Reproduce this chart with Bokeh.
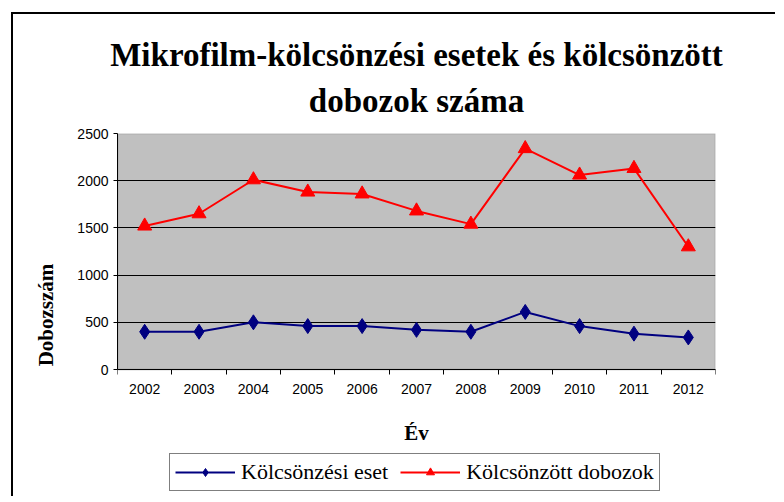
from bokeh.plotting import figure
from bokeh.models import (Title, Legend, LegendItem, FixedTicker, Range1d,
                          BasicTickFormatter, BoxAnnotation)
from bokeh.embed import file_html
from bokeh.resources import INLINE

years = [2002, 2003, 2004, 2005, 2006, 2007, 2008, 2009, 2010, 2011, 2012]
kolcsonzesi_eset = [400, 400, 500, 460, 460, 420, 400, 610, 460, 380, 340]
kolcsonzott_dobozok = [1520, 1650, 2010, 1880, 1860, 1680, 1540, 2340, 2060, 2130, 1300]
y_ticks = [0, 500, 1000, 1500, 2000, 2500]
title_lines = ["Mikrofilm-kölcsönzési esetek és kölcsönzött", "dobozok száma"]
series_names = ["Kölcsönzési eset", "Kölcsönzött dobozok"]
x_label = "Év"
y_label = "Dobozszám"

SERIF = "Liberation Serif"
SANS = "Liberation Sans"

# the frame extends below the value axis so the legend can sit under it
Y_BOTTOM = -1345

p = figure(
    frame_width=598, frame_height=363,
    x_range=Range1d(years[0] - 0.5, years[-1] + 0.5),
    y_range=Range1d(Y_BOTTOM, y_ticks[-1]),
    output_backend="svg", toolbar_location=None, title=None,
    min_border_left=104, min_border_top=119, min_border_right=60, min_border_bottom=0,
)
p.styles = {"border-left": "2px solid black", "border-top": "2px solid black",
            "margin-left": "11px", "margin-top": "12px"}

p.background_fill_color = "white"
p.border_fill_color = "white"
p.outline_line_color = None

# grey plot area 0..2500
area = BoxAnnotation(bottom=y_ticks[0], top=y_ticks[-1], fill_color="#C0C0C0", fill_alpha=1,
                     line_color="#808080", line_width=2, level="image")
p.add_layout(area)

# titles (two lines)
t2 = Title(text=title_lines[1], align="center", text_font=SERIF, text_font_size="33px",
           text_font_style="bold", text_color="black", standoff=30)
t1 = Title(text=title_lines[0], align="center", text_font=SERIF, text_font_size="33px",
           text_font_style="bold", text_color="black", standoff=-14)
p.add_layout(t2, "above")
p.add_layout(t1, "above")

# y axis
p.yaxis.ticker = FixedTicker(ticks=y_ticks)
p.yaxis.bounds = (y_ticks[0], y_ticks[-1])
p.yaxis.major_tick_out = 4
p.yaxis.major_tick_in = 0
p.yaxis.minor_tick_out = 0
p.yaxis.minor_tick_in = 0
p.yaxis.axis_line_color = "black"
p.yaxis.major_tick_line_color = "black"
p.yaxis.major_label_text_font = SANS
p.yaxis.major_label_text_font_size = "14px"
p.yaxis.major_label_text_color = "black"
p.yaxis.major_label_standoff = 5
p.yaxis.axis_label = y_label
p.yaxis.axis_label_text_font = SERIF
p.yaxis.axis_label_text_font_size = "21px"
p.yaxis.axis_label_text_font_style = "bold"
p.yaxis.axis_label_text_color = "black"
p.yaxis.axis_label_standoff = 16

# x axis at value 0: labels at category centres, tick marks between categories
bounds = [y - 0.5 for y in years] + [years[-1] + 0.5]
p.xaxis.fixed_location = y_ticks[0]
p.xaxis.ticker = FixedTicker(ticks=years, minor_ticks=bounds)
p.xaxis.formatter = BasicTickFormatter(use_scientific=False)
p.xaxis.major_tick_out = 0
p.xaxis.major_tick_in = 0
p.xaxis.minor_tick_out = 5
p.xaxis.minor_tick_in = 0
p.xaxis.minor_tick_line_color = "black"
p.xaxis.axis_line_color = "black"
p.xaxis.major_label_text_font = SANS
p.xaxis.major_label_text_font_size = "14px"
p.xaxis.major_label_text_color = "black"
p.xaxis.major_label_standoff = 9
p.xaxis.axis_label = x_label
p.xaxis.axis_label_text_font = SERIF
p.xaxis.axis_label_text_font_size = "21px"
p.xaxis.axis_label_text_font_style = "bold"
p.xaxis.axis_label_text_color = "black"
p.xaxis.axis_label_standoff = 24

p.xgrid.visible = False
p.ygrid.grid_line_color = "black"
p.ygrid.grid_line_width = 1
p.ygrid.bounds = (y_ticks[0], y_ticks[-1])

# series
l1 = p.line(years, kolcsonzesi_eset, line_color="#000080", line_width=2)
s1 = p.scatter(years, kolcsonzesi_eset, marker="diamond", size=15,
               fill_color="#000080", line_color="#000080")
l2 = p.line(years, kolcsonzott_dobozok, line_color="#FF0000", line_width=2)
s2 = p.scatter(years, kolcsonzott_dobozok, marker="triangle", size=14,
               fill_color="#FF0000", line_color="#FF0000")

legend = Legend(
    items=[LegendItem(label=series_names[0], renderers=[l1, s1]),
           LegendItem(label=series_names[1], renderers=[l2, s2])],
    orientation="horizontal", location=(52, 5),
    label_text_font=SERIF, label_text_font_size="22px", label_text_color="black",
    glyph_width=60, glyph_height=20, label_standoff=6, spacing=12,
    padding=5, margin=0,
    border_line_color="black", border_line_width=1,
    background_fill_color="white", background_fill_alpha=1,
)
p.add_layout(legend, "center")

open("out.html", "w").write(file_html(p, INLINE))
